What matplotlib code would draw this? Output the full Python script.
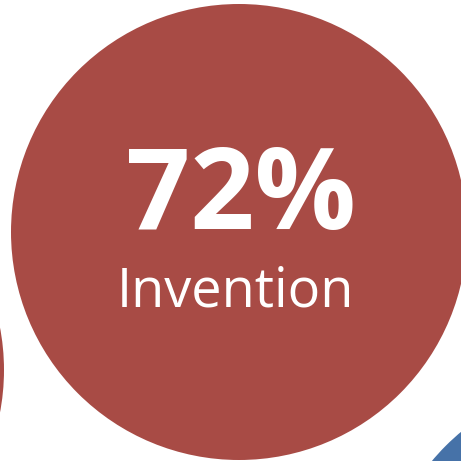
import matplotlib.pyplot as plt
from matplotlib.patches import Circle

# bubble values and labels
labels = ["Invention"]
values = [72]

red = "#A84B45"
blue = "#4672A8"

fig = plt.figure(figsize=(4.61, 4.61), dpi=100)
ax = fig.add_axes([0, 0, 1, 1])
ax.set_xlim(0, 461)
ax.set_ylim(461, 0)
ax.set_aspect("equal")
ax.axis("off")

r = 228
ax.add_patch(Circle((239, 232), r, color=red, lw=0))
ax.add_patch(Circle((-224, 370), r, color=red, lw=0))
ax.add_patch(Circle((607, 607), r, color=blue, lw=0))

ax.text(241, 199, f"{values[0]}%", color="white", fontsize=81,
        fontweight="bold", family="Open Sans", ha="center", va="center")
ax.text(235, 292, labels[0], color="white", fontsize=39,
        family="Open Sans", ha="center", va="center")

fig.savefig("out.png", dpi=100)
